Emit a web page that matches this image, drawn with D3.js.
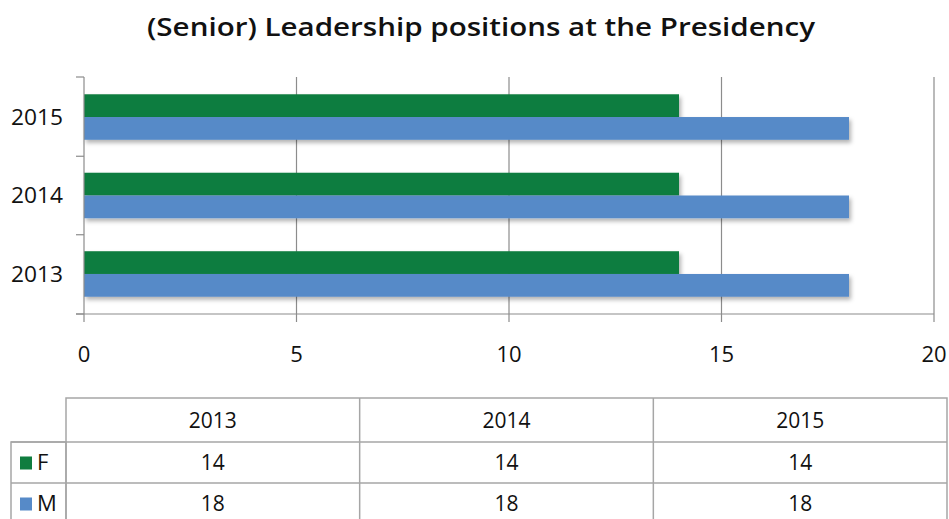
<!DOCTYPE html>
<html>
<head>
<meta charset="utf-8">
<script src="https://cdn.jsdelivr.net/npm/d3@7"></script>
<style>
  body { margin: 0; background: #fff; }
  svg { display: block; font-family: "Open Sans", sans-serif; }
</style>
</head>
<body>
<div id="chart"></div>
<script>
const title = "(Senior) Leadership positions at the Presidency";
const years = ["2013", "2014", "2015"];
const female = [14, 14, 14];
const male = [18, 18, 18];
const seriesNames = ["F", "M"];
const seriesColors = ["#0f7d3f", "#568ac8"];
const xTicks = [0, 5, 10, 15, 20];

const width = 949;
const height = 519;
const gridColor = "#8c8c8c";
const tableColor = "#a6a6a6";

const series = seriesNames.map((name, i) => ({
  name: name,
  color: seriesColors[i],
  values: i === 0 ? female : male
}));

const svg = d3.select("#chart")
  .append("svg")
  .attr("width", width)
  .attr("height", height);

// drop shadow like the office chart
const defs = svg.append("defs");
defs.append("filter")
  .attr("id", "shadow")
  .attr("x", "-5%").attr("y", "-20%")
  .attr("width", "110%").attr("height", "160%")
  .append("feDropShadow")
  .attr("dx", 2).attr("dy", 3)
  .attr("stdDeviation", 2)
  .attr("flood-color", "#000")
  .attr("flood-opacity", 0.3);

svg.append("text")
  .attr("x", 481)
  .attr("y", 36)
  .attr("text-anchor", "middle")
  .attr("font-size", 25)
  .attr("font-weight", 600)
  .attr("textLength", 668)
  .attr("lengthAdjust", "spacingAndGlyphs")
  .attr("fill", "#111")
  .text(title);

const x = d3.scaleLinear()
  .domain([0, 20])
  .range([84, 934]);

// top category is the last year
const y = d3.scaleBand()
  .domain(years.slice().reverse())
  .range([77, 314])
  .paddingInner(0.42)
  .paddingOuter(0.22);

const ySub = d3.scaleBand()
  .domain(seriesNames)
  .range([0, y.bandwidth()]);

const plotTop = 77, plotBottom = 314;

// gridlines
svg.append("g")
  .selectAll("line")
  .data(xTicks.slice(1))
  .join("line")
  .attr("x1", d => x(d)).attr("x2", d => x(d))
  .attr("y1", plotTop).attr("y2", plotBottom + 8)
  .attr("stroke", gridColor)
  .attr("stroke-width", 1.2);

// bars
svg.append("g")
  .selectAll("g")
  .data(series)
  .join("g")
  .attr("fill", d => d.color)
  .attr("filter", "url(#shadow)")
  .selectAll("rect")
  .data(s => s.values.map((v, i) => ({ name: s.name, year: years[i], value: v })))
  .join("rect")
  .attr("x", x(0))
  .attr("y", d => y(d.year) + ySub(d.name))
  .attr("width", d => x(d.value) - x(0))
  .attr("height", ySub.bandwidth());

// axes lines
const axis = svg.append("g")
  .attr("stroke", gridColor)
  .attr("stroke-width", 1.2);
axis.append("line")
  .attr("x1", x(0)).attr("x2", x(0))
  .attr("y1", plotTop).attr("y2", plotBottom + 8);
axis.append("line")
  .attr("x1", x(0) - 8).attr("x2", x(20))
  .attr("y1", plotBottom).attr("y2", plotBottom);

const yEdges = years.map(yr => y(yr) - y.step() * y.paddingInner() / 2);
axis.selectAll(".ytick")
  .data([plotTop, plotBottom].concat(yEdges.filter(v => v > plotTop + 5)))
  .join("line")
  .attr("x1", x(0) - 8).attr("x2", x(0))
  .attr("y1", d => d).attr("y2", d => d);

// x tick labels
svg.append("g")
  .attr("font-size", 22)
  .attr("fill", "#111")
  .attr("text-anchor", "middle")
  .selectAll("text")
  .data(xTicks)
  .join("text")
  .attr("x", d => x(d))
  .attr("y", 362)
  .text(d => d);

// y labels
svg.append("g")
  .attr("font-size", 22)
  .attr("fill", "#111")
  .attr("text-anchor", "end")
  .selectAll("text")
  .data(years)
  .join("text")
  .attr("x", 63)
  .attr("y", d => y(d) + y.bandwidth() / 2)
  .attr("dy", "0.36em")
  .attr("textLength", 52)
  .attr("lengthAdjust", "spacingAndGlyphs")
  .text(d => d);

// data table
const tx = d3.scaleBand()
  .domain(years)
  .range([66, 947]);
const rowTop = 398, headH = 44, rowH = 41;
const legendLeft = 11;

const table = svg.append("g")
  .attr("stroke", tableColor)
  .attr("stroke-width", 1.5)
  .attr("fill", "none");

table.append("rect")
  .attr("x", tx.range()[0]).attr("y", rowTop)
  .attr("width", tx.range()[1] - tx.range()[0]).attr("height", headH + rowH * 3);
table.append("rect")
  .attr("x", legendLeft).attr("y", rowTop + headH)
  .attr("width", tx.range()[0] - legendLeft).attr("height", rowH * 3);
table.selectAll(".col")
  .data(years.slice(1))
  .join("line")
  .attr("x1", d => tx(d)).attr("x2", d => tx(d))
  .attr("y1", rowTop).attr("y2", height + 10);
table.selectAll(".row")
  .data([rowTop + headH, rowTop + headH + rowH])
  .join("line")
  .attr("x1", legendLeft).attr("x2", tx.range()[1])
  .attr("y1", d => d).attr("y2", d => d);

const tableText = svg.append("g")
  .attr("font-size", 21)
  .attr("fill", "#111")
  .attr("text-anchor", "middle");

tableText.selectAll(".head")
  .data(years)
  .join("text")
  .attr("x", d => tx(d) + tx.bandwidth() / 2)
  .attr("y", rowTop + headH / 2)
  .attr("dy", "0.36em")
  .text(d => d);

series.forEach((s, r) => {
  const cy = rowTop + headH + rowH * r + rowH / 2;
  tableText.selectAll(".v" + r)
    .data(s.values)
    .join("text")
    .attr("x", (d, i) => tx(years[i]) + tx.bandwidth() / 2)
    .attr("y", cy)
    .attr("dy", "0.36em")
    .text(d => d);
  svg.append("rect")
    .attr("x", 20).attr("y", cy - 6)
    .attr("width", 12).attr("height", 13)
    .attr("fill", s.color);
  svg.append("text")
    .attr("x", 37).attr("y", cy)
    .attr("dy", "0.36em")
    .attr("font-size", 22)
    .attr("fill", "#111")
    .text(s.name);
});
</script>
</body>
</html>
